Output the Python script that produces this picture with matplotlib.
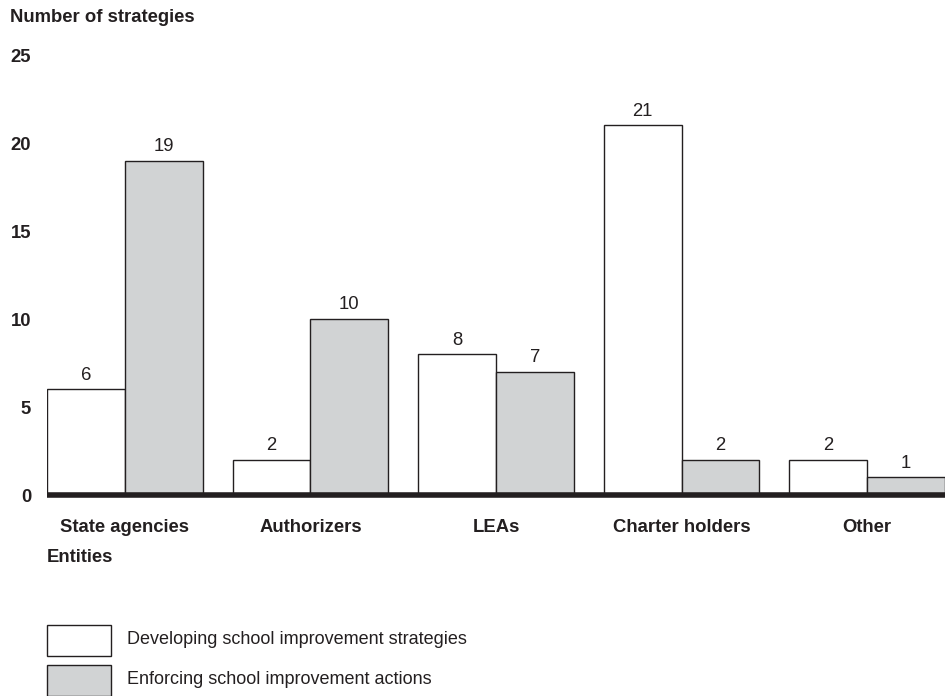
import matplotlib
matplotlib.use("Agg")
import matplotlib.pyplot as plt
from matplotlib.patches import Rectangle
import numpy as np

categories = ["State agencies", "Authorizers", "LEAs", "Charter holders", "Other"]
developing = [6, 2, 8, 21, 2]
enforcing = [19, 10, 7, 2, 1]
series_labels = ["Developing school improvement strategies",
                 "Enforcing school improvement actions"]
yticks = [0, 5, 10, 15, 20, 25]

plt.rcParams['font.family'] = ['Liberation Sans', 'DejaVu Sans']
EDGE = '#231f20'
GRAY = '#d1d3d4'
FS = 13.3

fig = plt.figure(figsize=(9.51, 6.96), dpi=100)
ax = fig.add_axes([47/951, (696-495)/696, (945-47)/951, 440/696])

x = np.arange(len(categories))
w = 0.42
b1 = ax.bar(x - w/2, developing, w, color='white', edgecolor=EDGE, linewidth=1.0)
b2 = ax.bar(x + w/2, enforcing, w, color=GRAY, edgecolor=EDGE, linewidth=1.0)
for bars, vals in ((b1, developing), (b2, enforcing)):
    for r, v in zip(bars, vals):
        ax.annotate(str(v), (r.get_x() + r.get_width()/2, v), xytext=(0, 4),
                    textcoords='offset points', ha='center', va='bottom',
                    fontsize=FS, color=EDGE)

ax.set_xlim(-w, len(categories) - 1 + w)
ax.set_ylim(0, 25)
ax.axhline(0, color=EDGE, linewidth=4, clip_on=False, zorder=5,
           solid_capstyle='butt')
for s in ax.spines.values():
    s.set_visible(False)
ax.set_yticks(yticks)
ax.set_yticklabels([str(t) for t in yticks], fontweight='bold', fontsize=FS, color=EDGE)
ax.tick_params(axis='y', length=0, pad=11.5)
ax.set_xticks(x)
ax.set_xticklabels(categories, fontweight='bold', fontsize=FS, color=EDGE)
ax.tick_params(axis='x', length=0, pad=17.5)

fig.text(10/951, 1 - 18/696, "Number of strategies", fontweight='bold', fontsize=FS,
         color=EDGE, va='center', ha='left')
fig.text(47/951, 1 - 558/696, "Entities", fontweight='bold', fontsize=FS,
         color=EDGE, va='center', ha='left')

# legend
for i, (lab, fc) in enumerate(zip(series_labels, ['white', GRAY])):
    top = 625 + i * 40
    fig.patches.append(Rectangle((47/951, 1 - (top + 31)/696), 64/951, 31/696,
                                 transform=fig.transFigure, facecolor=fc,
                                 edgecolor=EDGE, linewidth=1.0))
    fig.text(127/951, 1 - (top + 15)/696, lab, fontsize=13, color=EDGE,
             va='center', ha='left')

fig.savefig("out.png", dpi=100)
